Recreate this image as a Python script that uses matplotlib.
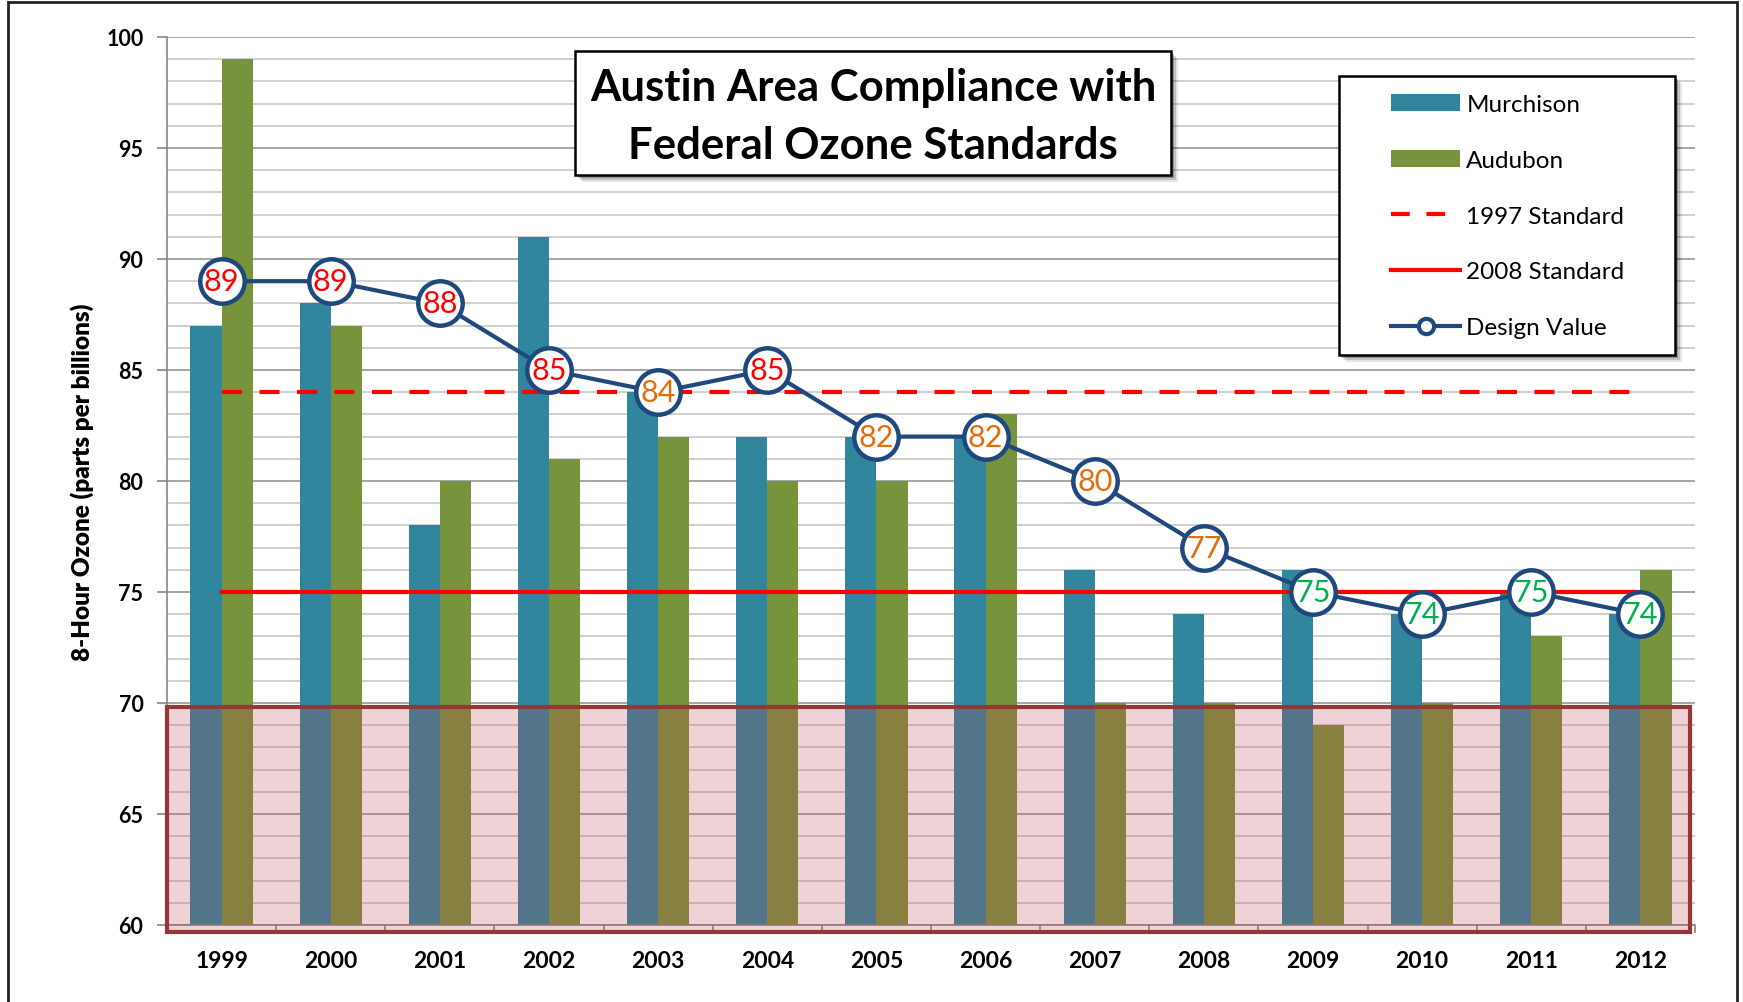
import numpy as np
import matplotlib
matplotlib.use("Agg")
import matplotlib.pyplot as plt
from matplotlib.patches import Rectangle, Patch
from matplotlib.lines import Line2D
from matplotlib.ticker import MultipleLocator

plt.rcParams['font.family'] = ['Lato', 'DejaVu Sans']

# data
years = ['1999', '2000', '2001', '2002', '2003', '2004', '2005',
         '2006', '2007', '2008', '2009', '2010', '2011', '2012']
murchison = [87, 88, 78, 91, 84, 82, 82, 82, 76, 74, 76, 74, 75, 74]
audubon = [99, 87, 80, 81, 82, 80, 80, 83, 70, 70, 69, 70, 73, 76]
design_value = [89, 89, 88, 85, 84, 85, 82, 82, 80, 77, 75, 74, 75, 74]
std_1997 = 84
std_2008 = 75
attain_top = 69.8

teal = '#31859C'
olive = '#77933C'
navy = '#1F497D'
red = '#FF0000'
orange = '#E46C0A'
green = '#00B050'

W, H = 1743, 1003
fig = plt.figure(figsize=(W / 100, H / 100), dpi=100)
ax = fig.add_axes([167 / W, 1 - 926 / H, (1695 - 167) / W, (926 - 38) / H])

x = np.arange(len(years))
bw = 0.285

ax.bar(x - bw / 2, murchison, width=bw, color=teal, zorder=2)
ax.bar(x + bw / 2, audubon, width=bw, color=olive, zorder=2)

# pink "non attainment" box over the lower part
ax.add_patch(Rectangle((-0.5, 59.68), 13.95, attain_top - 59.68,
                       facecolor='#BC4653', alpha=0.24, edgecolor='none',
                       zorder=3, clip_on=False))
ax.add_patch(Rectangle((-0.5, 59.68), 13.95, attain_top - 59.68,
                       facecolor='none', edgecolor='#953735', lw=3,
                       zorder=3.1, clip_on=False))

ax.plot([x[0], x[-1]], [std_1997, std_1997], color=red, lw=3,
        dashes=(4.8, 4.2), zorder=4)
ax.plot([x[0], x[-1]], [std_2008, std_2008], color=red, lw=3, zorder=4)

ax.plot(x, design_value, color=navy, lw=3, marker='o', markersize=32,
        markerfacecolor='white', markeredgecolor=navy, markeredgewidth=3.2,
        zorder=5)
for xi, v in zip(x, design_value):
    if v >= 85:
        c = red
    elif v >= 76:
        c = orange
    else:
        c = green
    ax.text(xi, v, str(v), color=c, fontsize=22, ha='center', va='center',
            zorder=6)

ax.set_xlim(-0.5, 13.5)
ax.set_ylim(60, 100)
ax.yaxis.set_major_locator(MultipleLocator(5))
ax.yaxis.set_minor_locator(MultipleLocator(1))
ax.grid(axis='y', which='minor', color='#C8C8C8', lw=1.2, zorder=0)
ax.grid(axis='y', which='major', color='#A6A6A6', lw=1.4, zorder=0)
ax.set_axisbelow(True)
ax.tick_params(axis='y', which='minor', length=0)
ax.tick_params(axis='y', which='major', length=7, width=1.2, color='#868686',
               pad=10, labelsize=15.5)

ax.set_xticks(x)
ax.set_xticklabels(years)
ax.set_xticks(np.arange(-0.5, 14, 1), minor=True)
ax.tick_params(axis='x', which='major', length=0, pad=18, labelsize=16.5)
ax.tick_params(axis='x', which='minor', length=6, width=1.2, color='#868686')

for s in ['top', 'right']:
    ax.spines[s].set_visible(False)
for s in ['left', 'bottom']:
    ax.spines[s].set_color('#868686')
    ax.spines[s].set_linewidth(1.2)

ax.set_ylabel('8-Hour Ozone (parts per billions)', fontsize=17.5,
              fontweight='heavy', labelpad=9)


def box_with_shadow(x0, y0, x1, y1):
    # pixel coords (top-left origin) -> figure fraction
    for k, a in [(7, 0.10), (5, 0.15), (3, 0.25)]:
        fig.patches.append(Rectangle((x0 / W + k / W, 1 - y1 / H - k / H),
                                     (x1 - x0) / W, (y1 - y0) / H,
                                     transform=fig.transFigure,
                                     facecolor='black', alpha=a,
                                     edgecolor='none', zorder=10))
    fig.patches.append(Rectangle((x0 / W, 1 - y1 / H), (x1 - x0) / W,
                                 (y1 - y0) / H, transform=fig.transFigure,
                                 facecolor='white', edgecolor='black',
                                 lw=1.8, zorder=11))


# title box
box_with_shadow(575, 52, 1171, 176)
fig.text(873 / W, 1 - 88 / H, 'Austin Area Compliance with', fontsize=31.5,
         fontweight='bold', ha='center', va='center', zorder=12)
fig.text(873 / W, 1 - 146 / H, 'Federal Ozone Standards', fontsize=31.5,
         fontweight='bold', ha='center', va='center', zorder=12)

# legend box
box_with_shadow(1339, 77, 1675, 356)
handles = [
    Patch(facecolor=teal),
    Patch(facecolor=olive),
    Line2D([], [], color=red, lw=3, dashes=(4.5, 4)),
    Line2D([], [], color=red, lw=3),
    Line2D([], [], color=navy, lw=3, marker='o', markersize=11,
           markerfacecolor='white', markeredgewidth=3),
]
labels = ['Murchison', 'Audubon', '1997 Standard', '2008 Standard',
          'Design Value']
leg = fig.legend(handles, labels, loc='upper left',
                 bbox_to_anchor=(1391 / W, 1 - 95 / H), frameon=False,
                 fontsize=17.5, handlelength=2.85, handletextpad=0.25,
                 labelspacing=1.43, borderpad=0, borderaxespad=0)
leg.set_zorder(13)

# bold tick labels
for t in ax.get_xticklabels() + ax.get_yticklabels():
    t.set_fontweight('bold')

# outer border
fig.patches.append(Rectangle((8 / W, -0.01), (1737 - 8) / W, 1 - 3 / H + 0.01,
                             transform=fig.transFigure, facecolor='none',
                             edgecolor='#222222', lw=2, zorder=20))

fig.savefig('out.png', dpi=100)
